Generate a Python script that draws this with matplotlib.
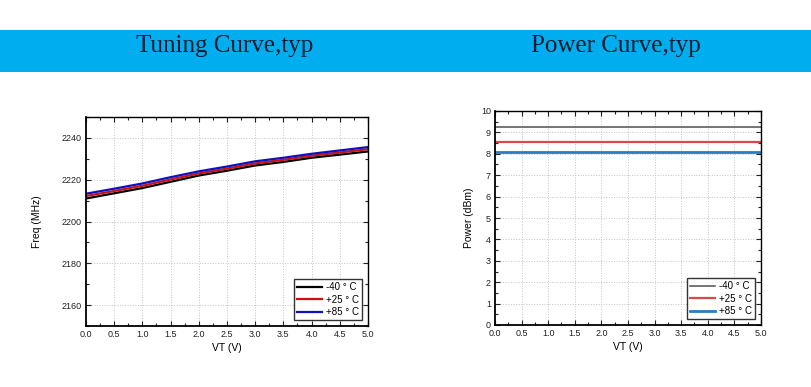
import matplotlib
matplotlib.use("Agg")
import matplotlib.pyplot as plt
from matplotlib.patches import Rectangle
from matplotlib.ticker import MultipleLocator

plt.rcParams['font.family'] = ['Liberation Sans', 'DejaVu Sans']

# data
vt = [0.0, 0.5, 1.0, 1.5, 2.0, 2.5, 3.0, 3.5, 4.0, 4.5, 5.0]
freq_m40 = [2211.0, 2213.5, 2216.0, 2219.0, 2222.0, 2224.3, 2226.8, 2228.5, 2230.5, 2232.0, 2233.5]
freq_p25 = [2212.2, 2214.6, 2217.1, 2220.1, 2223.0, 2225.3, 2227.8, 2229.5, 2231.5, 2233.0, 2234.6]
freq_p85 = [2213.3, 2215.7, 2218.2, 2221.2, 2224.0, 2226.3, 2228.8, 2230.5, 2232.4, 2234.0, 2235.6]

vt_pw = [0.0, 5.0]
pw_m40 = [9.25, 9.25]
pw_p25 = [8.57, 8.57]
pw_p85 = [8.07, 8.07]

labels = ['-40 ° C', '+25 ° C', '+85 ° C']
titles = ['Tuning Curve,typ', 'Power Curve,typ']

fig = plt.figure(figsize=(8.12, 3.87), dpi=100)

# blue banner
fig.patches.append(Rectangle((0, 1 - 71.5 / 387), 1, 42 / 387, transform=fig.transFigure,
                             facecolor='#00aeef', edgecolor='none', zorder=0))
fig.text(225 / 812, 1 - 46 / 387, titles[0], ha='center', va='center', fontsize=18,
         family='Liberation Serif', color='#0d1a2e')
fig.text(616 / 812, 1 - 46 / 387, titles[1], ha='center', va='center', fontsize=18,
         family='Liberation Serif', color='#0d1a2e')


def style_ax(ax):
    ax.set_xlim(0, 5)
    ax.xaxis.set_major_locator(MultipleLocator(0.5))
    ax.xaxis.set_minor_locator(MultipleLocator(0.25))
    ax.grid(True, which='major', linestyle=':', color='#c4c4c4', linewidth=0.7)
    ax.tick_params(which='both', direction='in', labelsize=6.5, top=True, right=True,
                   width=0.8, colors='#222222', pad=3)
    ax.tick_params(which='major', length=3.5)
    ax.tick_params(which='minor', length=2)
    for s in ax.spines.values():
        s.set_linewidth(1.0)
    ax.spines['left'].set_linewidth(1.3)
    ax.spines['bottom'].set_linewidth(1.3)
    ax.set_xlabel('VT (V)', fontsize=7.5, labelpad=3)
    ax.xaxis.set_major_formatter(matplotlib.ticker.FormatStrFormatter('%.1f'))


ax1 = fig.add_axes([86 / 812, 61 / 387, 282 / 812, 209 / 387])
ax1.plot(vt, freq_m40, color='#000000', lw=1.6, label=labels[0])
ax1.plot(vt, freq_p25, color='#d01010', lw=1.6, label=labels[1])
ax1.plot(vt, freq_p85, color='#1010c0', lw=1.6, label=labels[2])
ax1.set_ylim(2150, 2250)
ax1.yaxis.set_major_locator(MultipleLocator(20))
ax1.yaxis.set_minor_locator(MultipleLocator(10))
ax1.set_ylabel('Freq (MHz)', fontsize=7.5, labelpad=14)
style_ax(ax1)
leg = ax1.legend(loc='lower right', fontsize=7, frameon=True, fancybox=False,
                 handlelength=2.6, handletextpad=0.4, borderpad=0.3, labelspacing=0.25,
                 borderaxespad=0.6)
leg.get_frame().set_edgecolor('black')
leg.get_frame().set_linewidth(1.0)

ax2 = fig.add_axes([495 / 812, 62 / 387, 266 / 812, 214 / 387])
ax2.plot(vt_pw, pw_m40, color='#505050', lw=1.1, label=labels[0])
ax2.plot(vt_pw, pw_p25, color='#d84848', lw=1.6, label=labels[1])
ax2.plot(vt_pw, pw_p85, color='#2a7cc4', lw=2.0, label=labels[2])
ax2.set_ylim(0, 10)
ax2.yaxis.set_major_locator(MultipleLocator(1))
ax2.yaxis.set_minor_locator(MultipleLocator(0.5))
ax2.set_ylabel('Power (dBm)', fontsize=7.5, labelpad=5)
style_ax(ax2)
leg2 = ax2.legend(loc='lower right', fontsize=7, frameon=True, fancybox=False,
                  handlelength=2.6, handletextpad=0.4, borderpad=0.3, labelspacing=0.25,
                  borderaxespad=0.6)
leg2.get_frame().set_edgecolor('black')
leg2.get_frame().set_linewidth(1.0)

fig.savefig('out.png', dpi=100)
